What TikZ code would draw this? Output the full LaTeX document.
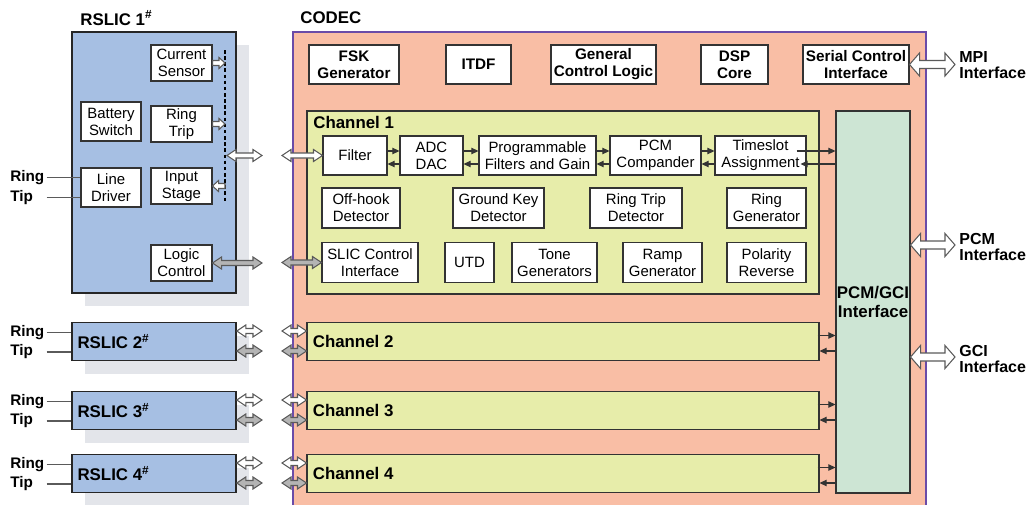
\documentclass[tikz,border=0pt]{standalone}
\usepackage{fontspec}
\setmainfont{Liberation Sans}
\usetikzlibrary{arrows.meta, calc, shadows}
\definecolor{sblue}{HTML}{A6BFE3}
\definecolor{ssalmon}{HTML}{F9BEA5}
\definecolor{slime}{HTML}{E7EDAA}
\definecolor{smint}{HTML}{CDE5D4}
\definecolor{sshade}{HTML}{E3E5EA}
\definecolor{spurple}{HTML}{6A4BA8}
\definecolor{sdark}{HTML}{333333}
\definecolor{sgrey}{HTML}{5A5A5A}
\definecolor{sfillgrey}{HTML}{B4B4B4}
\newcommand{\txt}{\fontsize{8.5}{9.6}\selectfont}
\newcommand{\btxt}{\fontsize{8.7}{9.6}\selectfont\bfseries}
\newcommand{\lbl}{\fontsize{9.6}{9.2}\selectfont\bfseries}
% hollow arrows: [fill]{left end}{right end}{head length}{head half width}{shaft half width}
\newcommand{\dblarrow}[6][white]{%
  \draw[hollow, fill=#1] (#2) -- ++(#4,-#5) -- ++(0,#5-#6) -- ($(#3)+(-#4,-#6)$) -- ++(0,#6-#5)
    -- (#3) -- ++(-#4,#5) -- ++(0,#6-#5) -- ($(#2)+(#4,#6)$) -- ++(0,#5-#6) -- cycle;}
\newcommand{\sglarrow}[3]{%
  \draw[hollow, fill=white] ($(#1)+(0,-2.5)$) -- ($(#2)+({-1*(#3)},-2.5)$) -- ++(0,-3) -- (#2)
    -- ++({-1*(#3)},5.5) -- ++(0,-3) -- ($(#1)+(0,2.5)$) -- cycle;}
\tikzset{
  every picture/.style={x=0.02cm, y=-0.02cm},
  wbox/.style 2 args={draw=sdark, fill=white, line width=0.6pt, inner sep=0pt, align=center, font=\txt,
    minimum width=#1*0.02cm, minimum height=#2*0.02cm},
  tbox/.style 2 args={wbox={#1}{#2}, font=\btxt},
  slic/.style 2 args={draw=black!85, fill=sblue, line width=0.9pt, inner sep=0pt,
    minimum width=#1*0.02cm, minimum height=#2*0.02cm,
    general shadow={fill=sshade, shadow xshift=0.26cm, shadow yshift=-0.26cm}},
  chan/.style 2 args={draw=sdark, fill=slime, line width=0.6pt, inner sep=0pt,
    minimum width=#1*0.02cm, minimum height=#2*0.02cm},
  title/.style={font=\lbl, inner sep=0pt, anchor=west, align=left},
  side/.style={title, font=\fontsize{9.1}{9}\selectfont\bfseries},
  rtlabel/.style={font=\fontsize{8.7}{9.6}\selectfont\bfseries, inner sep=0pt, anchor=west, align=left, text width=0.72cm},
  wire/.style={draw=sgrey, line width=0.6pt},
  sig/.style={-{Triangle[length=4pt, width=3.6pt]}, draw=sdark, line width=0.6pt},
  hollow/.style={draw=sgrey, line width=0.6pt},
}
\begin{document}
\begin{tikzpicture}
  \useasboundingbox (0,0) rectangle (1028,504);
  % codec
  \node[draw=spurple, fill=ssalmon, line width=0.8pt, minimum width=633*0.02cm, minimum height=490*0.02cm] (codec) at (609.5,277) {};
  \node[title] (codect) at (300,18) {CODEC};
  \node[tbox={90}{39}] (fsk) at (354,64.5) {FSK\\Generator};
  \node[tbox={65}{39}] (itdf) at (478.5,64.5) {ITDF};
  \node[tbox={105}{39}] (gcl) at (603.5,64.5) {General\\Control Logic};
  \node[tbox={67}{39}] (dsp) at (734.5,64.5) {DSP\\Core};
  \node[tbox={106}{39}] (sci) at (856,64.5) {Serial Control\\Interface};
  \node[chan={512}{183}] (ch1) at (563,202.5) {};
  \node[title] (ch1t) at (313,122) {Channel 1};
  \node[wbox={64}{39}] (filt) at (355,155.5) {Filter};
  \node[wbox={63}{39}] (adc) at (431.5,155.5) {ADC\\DAC};
  \node[wbox={117}{39}] (pfg) at (537.5,155.5) {Programmable\\Filters and Gain};
  \node[wbox={91}{39}] (pcmc) at (655.5,155.5) {PCM\\Compander};
  \node[wbox={91}{39}] (tsa) at (760.5,155.5) {Timeslot\\Assignment};
  \node[wbox={78}{40}] (ohd) at (361,208) {Off-hook\\Detector};
  \node[wbox={91}{40}] (gkd) at (498.5,208) {Ground Key\\Detector};
  \node[wbox={92}{40}] (rtd) at (636,208) {Ring Trip\\Detector};
  \node[wbox={79}{40}] (rgen) at (766.5,208) {Ring\\Generator};
  \node[wbox={96}{40}] (slic) at (370,262.5) {SLIC Control\\Interface};
  \node[wbox={49}{40}] (utd) at (469.5,262.5) {UTD};
  \node[wbox={85}{40}] (tone) at (554.5,262.5) {Tone\\Generators};
  \node[wbox={79}{40}] (ramp) at (662.5,262.5) {Ramp\\Generator};
  \node[wbox={79}{40}] (pol) at (766.5,262.5) {Polarity\\Reverse};
  \node[draw=sdark, fill=smint, line width=0.6pt, inner sep=0pt, align=center, font=\fontsize{9.6}{10.4}\selectfont\bfseries,
    minimum width=74*0.02cm, minimum height=382*0.02cm] (pgi) at (873,302) {PCM/GCI\\Interface};
  \foreach \a/\b in {filt/adc, adc/pfg, pfg/pcmc, pcmc/tsa} {
    \draw[sig] ($(\a.east)+(0,-4.5)$) -- ($(\b.west)+(0,-4.5)$);
    \draw[sig] ($(\b.west)+(0,8.5)$) -- ($(\a.east)+(0,8.5)$);
  }
  \draw[sig] ($(tsa.east)+(-10,-4.5)$) -- ($(pgi.west |- tsa.east)+(0,-4.5)$);
  \draw[sig] ($(pgi.west |- tsa.east)+(0,8.5)$) -- ($(tsa.east)+(-6,8.5)$);
  % rslic 1
  \node[slic={164}{261}] (rs1) at (154,162.5) {};
  \node[title] (rs1t) at (80,18) {RSLIC 1\textsuperscript{\#}};
  \node[wbox={61}{36}] (cs) at (181.5,63) {Current\\Sensor};
  \node[wbox={60}{39}] (bat) at (111,121.5) {Battery\\Switch};
  \node[wbox={61}{36}] (rt) at (181.5,124) {Ring\\Trip};
  \node[wbox={60}{39}] (drv) at (111,187.5) {Line\\Driver};
  \node[wbox={61}{36}] (inp) at (181.5,186) {Input\\Stage};
  \node[wbox={61}{36}] (lc) at (181.5,263) {Logic\\Control};
  \coordinate (dtop) at (225,50);
  \coordinate (dbot) at (225,203);
  \draw[black, line width=0.6pt, dash pattern=on 2pt off 1.5pt] (dtop) -- (dbot);
  \coordinate (csd) at (cs.east -| dtop);
  \coordinate (rtd) at (rt.east -| dtop);
  \coordinate (inpd) at (inp.east -| dtop);
  \sglarrow{cs.east}{csd}{6}
  \sglarrow{rt.east}{rtd}{6}
  \sglarrow{inpd}{inp.east}{-6}
  \node[rtlabel] (ring1) at (10,177.5) {Ring};
  \node[rtlabel] (tip1) at (10,197.5) {Tip};
  \draw[wire] (ring1.east) -- (ring1.east -| drv.west);
  \draw[wire] (tip1.east) -- (tip1.east -| drv.west);
  \coordinate (bus) at (227,155.5);
  \coordinate (busr) at (262,155.5);
  \coordinate (busc) at (282,155.5);
  \coordinate (lcr) at (262,263);
  \coordinate (lcc) at (282,262.5);
  \dblarrow{bus}{busr}{9}{6}{2.5}
  \dblarrow{busc}{filt.west}{9}{6}{2.5}
  \dblarrow[sfillgrey]{lc.east}{lcr}{9}{6}{2.5}
  \dblarrow[sfillgrey]{lcc}{slic.west}{9}{6}{2.5}
  % rslic 2-4 and channels 2-4
  \foreach \n/\yc in {2/341.5, 3/410.5, 4/473.5} {
    \node[slic={164}{38}] (rs\n) at (154,\yc) {};
    \node[title] at ($(rs\n.west)+(6,0)$) {RSLIC \n\textsuperscript{\#}};
    \node[chan={512}{38}] (ch\n) at (563,\yc) {};
    \node[title] at ($(ch\n.west)+(6,0)$) {Channel \n};
    \node[rtlabel] (ring\n) at (10,\yc-9) {Ring};
    \node[rtlabel] (tip\n) at (10,\yc+10.5) {Tip};
    \draw[wire] (ring\n.east) -- (ring\n.east -| rs\n.west);
    \draw[wire] (tip\n.east) -- (tip\n.east -| rs\n.west);
    \coordinate (gw\n) at (262,\yc-10.5);
    \coordinate (gg\n) at (262,\yc+9.5);
    \coordinate (cw\n) at (282,\yc-10.5);
    \coordinate (cg\n) at (282,\yc+9.5);
    \dblarrow{rs\n.east |- gw\n}{gw\n}{9}{6}{2.5}
    \dblarrow[sfillgrey]{rs\n.east |- gg\n}{gg\n}{9}{6}{2.5}
    \dblarrow{cw\n}{ch\n.west |- cw\n}{9}{6}{2.5}
    \dblarrow[sfillgrey]{cg\n}{ch\n.west |- cg\n}{9}{6}{2.5}
    \draw[sig] ($(ch\n.east)+(-2,-6)$) -- ($(pgi.west |- ch\n.east)+(0,-6)$);
    \draw[sig] ($(pgi.west |- ch\n.east)+(0,9.5)$) -- ($(ch\n.east)+(0,9.5)$);
  }
  % outside interfaces
  \coordinate (mpi) at (955,64.5);
  \coordinate (pcm) at (955,245);
  \coordinate (gci) at (955,357);
  \dblarrow{sci.east}{mpi}{10}{11.5}{4}
  \dblarrow{pgi.east |- pcm}{pcm}{10}{11.5}{4}
  \dblarrow{pgi.east |- gci}{gci}{10}{11.5}{4}
  \node[side] (mpit) at (959,65) {MPI\\Interface};
  \node[side] (pcmt) at (959,247) {PCM\\Interface};
  \node[side] (gcit) at (959,359) {GCI\\Interface};
\end{tikzpicture}
\end{document}
